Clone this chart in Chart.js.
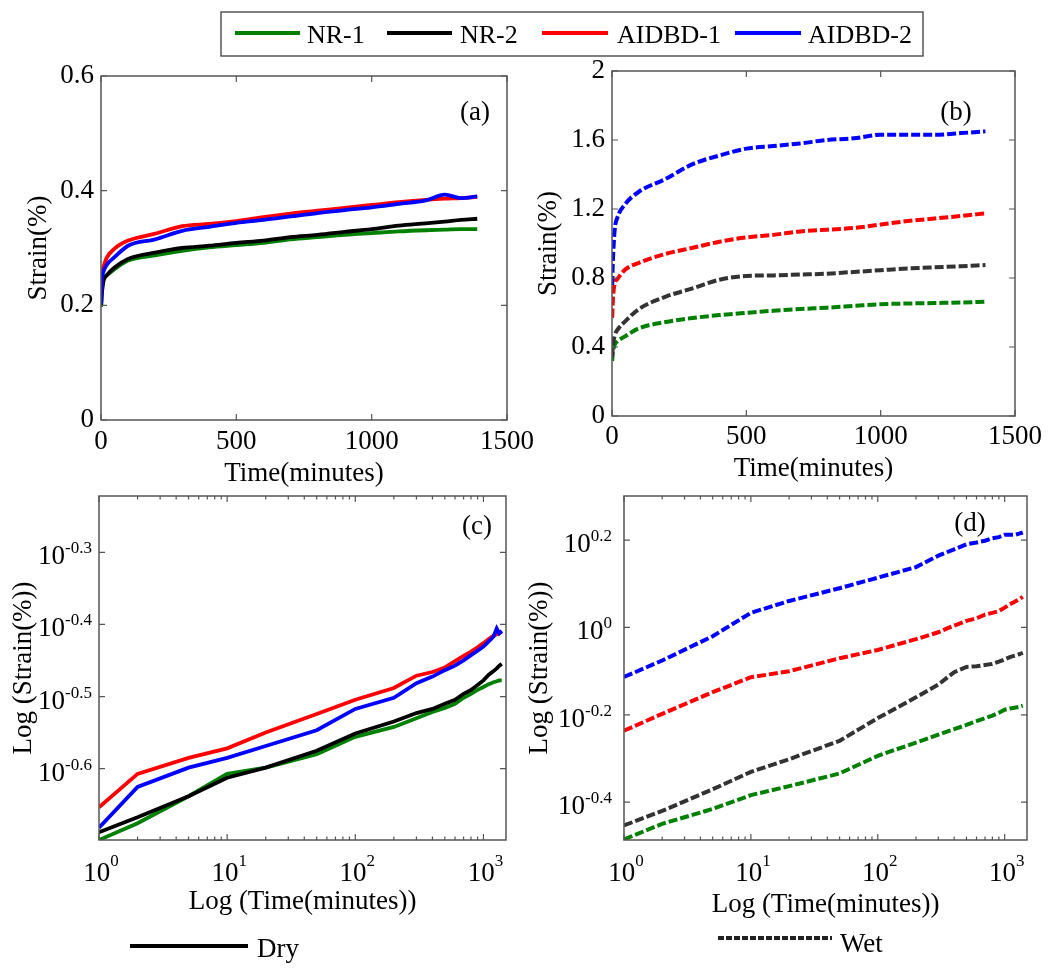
<!DOCTYPE html>
<html lang="en">
<head>
  <meta charset="UTF-8" />
  <title>Strain vs time, dry and wet</title>
  <script src="https://cdn.jsdelivr.net/npm/chart.js"></script>
  <style>
    body { margin: 0; background: #fff; overflow: hidden; }
    .stage { position: relative; width: 1050px; height: 968px; }
    .stage canvas { position: absolute; left: 0; top: 0; }
  </style>
</head>
<body>
  <div class="stage">
    <canvas id="chartA" width="1050" height="968"></canvas>
    <canvas id="chartB" width="1050" height="968"></canvas>
    <canvas id="chartC" width="1050" height="968"></canvas>
    <canvas id="chartD" width="1050" height="968"></canvas>
  </div>

  <script>
    // series names, in legend order
    const seriesNames = ['NR-1', 'NR-2', 'AIDBD-1', 'AIDBD-2'];

    // dry test (panels a, c) - time in minutes, strain in %
    const dryTime   = [0, 1, 2, 5, 10, 20, 50, 100, 200, 300, 400, 500, 600, 700, 800, 900, 1000, 1100, 1200, 1270, 1330, 1390];
    const dryNR1    = [0.198, 0.200, 0.211, 0.230, 0.247, 0.252, 0.263, 0.278, 0.287, 0.295, 0.301, 0.305, 0.309, 0.315, 0.319, 0.323, 0.326, 0.329, 0.331, 0.332, 0.333, 0.333];
    const dryNR2    = [0.200, 0.205, 0.215, 0.230, 0.244, 0.252, 0.266, 0.281, 0.292, 0.300, 0.304, 0.309, 0.313, 0.319, 0.323, 0.328, 0.333, 0.339, 0.343, 0.346, 0.349, 0.351];
    const dryAIDBD1 = [0.205, 0.222, 0.247, 0.260, 0.268, 0.282, 0.299, 0.313, 0.325, 0.338, 0.342, 0.347, 0.354, 0.360, 0.365, 0.370, 0.375, 0.380, 0.384, 0.386, 0.387, 0.389];
    const dryAIDBD2 = [0.203, 0.208, 0.237, 0.252, 0.260, 0.270, 0.284, 0.304, 0.315, 0.330, 0.337, 0.344, 0.349, 0.355, 0.361, 0.366, 0.371, 0.377, 0.383, 0.393, 0.387, 0.390];

    // wet test (panels b, d)
    const wetTime   = [0, 1, 2, 5, 10, 20, 50, 100, 200, 300, 400, 500, 600, 700, 800, 900, 1000, 1100, 1200, 1300, 1390];
    const wetNR1    = [0.32, 0.327, 0.355, 0.384, 0.413, 0.433, 0.463, 0.508, 0.545, 0.568, 0.585, 0.598, 0.610, 0.620, 0.628, 0.638, 0.648, 0.652, 0.655, 0.658, 0.662];
    const wetNR2    = [0.34, 0.352, 0.380, 0.426, 0.467, 0.499, 0.550, 0.620, 0.692, 0.740, 0.790, 0.812, 0.815, 0.820, 0.825, 0.835, 0.845, 0.855, 0.862, 0.868, 0.875];
    const wetAIDBD1 = [0.57, 0.580, 0.634, 0.711, 0.769, 0.794, 0.850, 0.888, 0.940, 0.975, 1.010, 1.035, 1.050, 1.070, 1.080, 1.090, 1.110, 1.130, 1.145, 1.160, 1.175];
    const wetAIDBD2 = [0.76, 0.770, 0.840, 0.955, 1.080, 1.150, 1.230, 1.300, 1.375, 1.460, 1.510, 1.550, 1.565, 1.580, 1.600, 1.610, 1.630, 1.630, 1.630, 1.640, 1.650];

    // tick values
    const linXTicks = [0, 500, 1000, 1500];
    const aYTicks = [0, 0.2, 0.4, 0.6];
    const bYTicks = [0, 0.4, 0.8, 1.2, 1.6, 2];
    const logXExps = [0, 1, 2, 3];
    const cYExps = [-0.3, -0.4, -0.5, -0.6];
    const dYExps = [0.2, 0, -0.2, -0.4];

    const dryColors = ['#008000', '#000000', '#ff0000', '#0000ff'];
    const wetColors = ['#008000', '#333333', '#ff0000', '#0000ff'];
    const SERIF = '"Liberation Serif", "Times New Roman", serif';

    // minor ticks of the log time axis: 2..9 of each decade up to 1500
    const logXMinor = [];
    for (let d = 1; d <= 1000; d *= 10) {
      for (let k = 2; k <= 9; k++) if (k * d <= 1500) logXMinor.push(k * d);
    }

    function points(time, vals, logX) {
      const out = [];
      time.forEach((t, i) => { if (!logX || t > 0) out.push({ x: t, y: vals[i] }); });
      return out;
    }

    function makeDatasets(time, sets, colors, wet, logX) {
      return sets.map((vals, i) => {
        const ds = {
          label: seriesNames[i],
          data: points(time, vals, logX),
          borderColor: colors[i],
          borderWidth: wet ? 4 : 3.8,
          borderDash: wet ? [9, 3] : [],
          pointRadius: 0,
          fill: false,
          tension: 0,
          order: 4 - i
        };
        if (!logX) ds.cubicInterpolationMode = 'monotone';
        return ds;
      });
    }

    // box, inward ticks, panel tag, power-of-ten labels, legends
    const framePlugin = {
      id: 'frame',
      afterDatasetsDraw(chart, args, o) {
        const { ctx, chartArea: ca } = chart;
        const x = chart.scales.x, y = chart.scales.y;
        ctx.save();
        ctx.strokeStyle = '#555';
        ctx.lineWidth = 1.5;
        ctx.setLineDash([]);
        ctx.strokeRect(ca.left, ca.top, ca.right - ca.left, ca.bottom - ca.top);

        ctx.lineWidth = 1.2;
        ctx.beginPath();
        o.xTicks.forEach(v => {
          const px = x.getPixelForValue(v);
          ctx.moveTo(px, ca.bottom); ctx.lineTo(px, ca.bottom - 6);
          ctx.moveTo(px, ca.top); ctx.lineTo(px, ca.top + 6);
        });
        (o.xMinor || []).forEach(v => {
          const px = x.getPixelForValue(v);
          ctx.moveTo(px, ca.bottom); ctx.lineTo(px, ca.bottom - 3.5);
          ctx.moveTo(px, ca.top); ctx.lineTo(px, ca.top + 3.5);
        });
        o.yTicks.forEach(v => {
          const py = y.getPixelForValue(v);
          ctx.moveTo(ca.left, py); ctx.lineTo(ca.left + 6, py);
          ctx.moveTo(ca.right, py); ctx.lineTo(ca.right - 6, py);
        });
        ctx.stroke();

        ctx.fillStyle = '#000';
        ctx.font = '27px ' + SERIF;
        ctx.textAlign = 'center';
        ctx.textBaseline = 'middle';
        ctx.fillText(o.tag, ca.right + o.tagDx, ca.top + o.tagDy);

        ctx.textAlign = 'left';
        ctx.textBaseline = 'alphabetic';
        if (o.yExps) {
          o.yExps.forEach(e => {
            const py = y.getPixelForValue(Math.pow(10, e));
            const es = String(e);
            ctx.font = '17px ' + SERIF;
            const ew = ctx.measureText(es).width;
            ctx.font = '27px ' + SERIF;
            const bw = ctx.measureText('10').width;
            const right = ca.left - o.yGap;
            ctx.fillText('10', right - ew - bw, py + 12);
            ctx.font = '17px ' + SERIF;
            ctx.fillText(es, right - ew, py + 1);
          });
        }
        if (o.xExps) {
          o.xExps.forEach(e => {
            const px = x.getPixelForValue(Math.pow(10, e));
            const es = String(e);
            ctx.font = '17px ' + SERIF;
            const ew = ctx.measureText(es).width;
            ctx.font = '27px ' + SERIF;
            const bw = ctx.measureText('10').width;
            const start = px - (bw + ew) / 2 + 2;
            ctx.fillText('10', start, ca.bottom + 41);
            ctx.font = '17px ' + SERIF;
            ctx.fillText(es, start + bw, ca.bottom + 26);
          });
        }

        if (o.topLegend) {
          ctx.strokeStyle = '#555';
          ctx.lineWidth = 1.5;
          ctx.strokeRect(221, 12, 702, 44);
          const items = [[235, 300, 307], [387, 452, 460], [542, 608, 617], [735, 801, 808]];
          ctx.font = '26px ' + SERIF;
          chart.data.datasets.forEach((ds, i) => {
            const it = items[i];
            ctx.strokeStyle = ds.borderColor;
            ctx.lineWidth = 4;
            ctx.beginPath(); ctx.moveTo(it[0], 33); ctx.lineTo(it[1], 33); ctx.stroke();
            ctx.fillText(ds.label, it[2], 43);
          });
        }
        if (o.bottomLegend) {
          const b = o.bottomLegend;
          ctx.strokeStyle = b.color;
          ctx.lineWidth = 4;
          ctx.setLineDash(b.dash);
          ctx.beginPath(); ctx.moveTo(b.x0, b.y); ctx.lineTo(b.x1, b.y); ctx.stroke();
          ctx.setLineDash([]);
          ctx.font = '27px ' + SERIF;
          ctx.fillText(b.text, b.tx, b.ty);
        }
        ctx.restore();
      }
    };

    function linTicks(vals) {
      return {
        afterBuildTicks: s => { s.ticks = vals.map(v => ({ value: v })); }
      };
    }

    function makeChart(id, p) {
      const logX = p.logX;
      return new Chart(document.getElementById(id), {
        type: 'line',
        data: { datasets: p.datasets },
        options: {
          responsive: false,
          animation: false,
          layout: { padding: p.padding },
          plugins: {
            legend: { display: false },
            tooltip: { enabled: false },
            frame: p.frame
          },
          scales: {
            x: Object.assign({
              type: logX ? 'logarithmic' : 'linear',
              bounds: 'data',
              min: logX ? 1 : 0,
              max: 1500,
              grid: { display: false, drawTicks: false },
              border: { display: false },
              ticks: {
                display: !logX,
                color: '#000',
                padding: p.xTickPad,
                maxRotation: 0,
                font: { family: SERIF, size: 27 },
                callback: v => String(v)
              },
              title: {
                display: true,
                text: logX ? 'Log (Time(minutes))' : 'Time(minutes)',
                color: '#000',
                font: { family: SERIF, size: 27 },
                padding: { top: 0, bottom: p.xTitlePad }
              },
              afterFit: s => { s.height = p.xHeight; }
            }, linTicks(p.xTickVals)),
            y: Object.assign({
              type: p.logY ? 'logarithmic' : 'linear',
              bounds: 'data',
              min: p.yMin,
              max: p.yMax,
              grid: { display: false, drawTicks: false },
              border: { display: false },
              ticks: {
                display: !p.logY,
                color: '#000',
                padding: 7,
                font: { family: SERIF, size: 27 },
                callback: v => String(v)
              },
              title: {
                display: true,
                text: p.logY ? 'Log (Strain(%))' : 'Strain(%)',
                color: '#000',
                font: { family: SERIF, size: 27 },
                padding: { top: p.yTitlePad, bottom: 0 }
              },
              afterFit: s => { s.width = p.yWidth; }
            }, linTicks(p.yTickVals))
          }
        },
        plugins: [framePlugin]
      });
    }

    const drySets = [dryNR1, dryNR2, dryAIDBD1, dryAIDBD2];
    const wetSets = [wetNR1, wetNR2, wetAIDBD1, wetAIDBD2];

    // (a) dry, linear
    makeChart('chartA', {
      datasets: makeDatasets(dryTime, drySets, dryColors, false, false),
      logX: false, logY: false, yMin: 0, yMax: 0.6,
      xTickVals: linXTicks, yTickVals: aYTicks,
      padding: { left: 0, top: 76, right: 543, bottom: 478 },
      yWidth: 101, xHeight: 70, yTitlePad: 23, xTitlePad: 0, xTickPad: 6,
      frame: { xTicks: linXTicks, yTicks: aYTicks, tag: '(a)', tagDx: -32, tagDy: 37, topLegend: true }
    });

    // (b) wet, linear
    makeChart('chartB', {
      datasets: makeDatasets(wetTime, wetSets, wetColors, true, false),
      logX: false, logY: false, yMin: 0, yMax: 2,
      xTickVals: linXTicks, yTickVals: bYTicks,
      padding: { left: 525, top: 71, right: 35, bottom: 482 },
      yWidth: 87, xHeight: 70, yTitlePad: 8, xTitlePad: 1, xTickPad: 5,
      frame: { xTicks: linXTicks, yTicks: bYTicks, tag: '(b)', tagDx: -59, tagDy: 42 }
    });

    // (c) dry, log-log
    const logXTicks = logXExps.map(e => Math.pow(10, e));
    const cYTicks = cYExps.map(e => Math.pow(10, e));
    makeChart('chartC', {
      datasets: makeDatasets(dryTime, drySets, dryColors, false, true),
      logX: true, logY: true, yMin: 0.2, yMax: 0.6,
      xTickVals: logXTicks, yTickVals: cYTicks,
      padding: { left: 0, top: 496, right: 544, bottom: 48 },
      yWidth: 99, xHeight: 80, yTitlePad: 8, xTitlePad: 2, xTickPad: 6,
      frame: {
        xTicks: logXTicks, xMinor: logXMinor, yTicks: cYTicks, tag: '(c)', tagDx: -29, tagDy: 31,
        xExps: logXExps, yExps: cYExps, yGap: 7,
        bottomLegend: { color: '#000', dash: [], x0: 130, x1: 248, y: 946, text: 'Dry', tx: 257, ty: 957 }
      }
    });

    // (d) wet, log-log
    const dYTicks = dYExps.map(e => Math.pow(10, e));
    makeChart('chartD', {
      datasets: makeDatasets(wetTime, wetSets, wetColors, true, true),
      logX: true, logY: true, yMin: 0.326, yMax: 2,
      xTickVals: logXTicks, yTickVals: dYTicks,
      padding: { left: 520, top: 496, right: 23, bottom: 43 },
      yWidth: 104, xHeight: 85, yTitlePad: 4, xTitlePad: 4, xTickPad: 6,
      frame: {
        xTicks: logXTicks, xMinor: logXMinor, yTicks: dYTicks, tag: '(d)', tagDx: -57, tagDy: 28,
        xExps: logXExps, yExps: dYExps, yGap: 12,
        bottomLegend: { color: '#222', dash: [6, 2], x0: 718, x1: 832, y: 938, text: 'Wet', tx: 840, ty: 952 }
      }
    });
  </script>
</body>
</html>
